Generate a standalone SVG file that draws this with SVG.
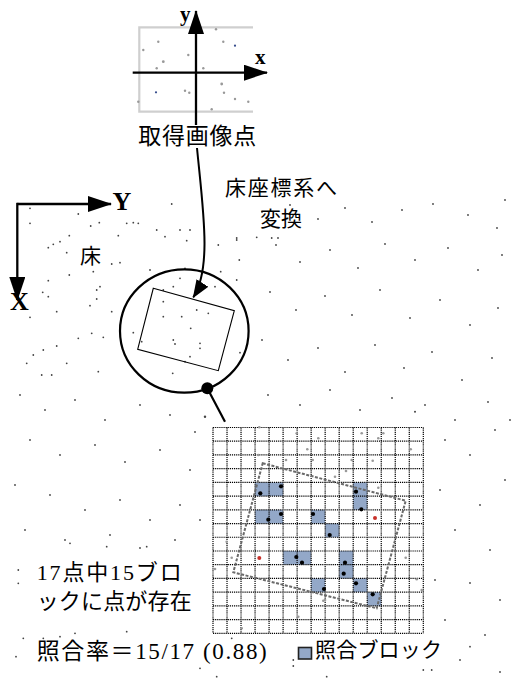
<svg xmlns="http://www.w3.org/2000/svg" width="513" height="679" viewBox="0 0 513 679">
<defs>
<style>
.d{fill:#444}
.g{fill:#999}
.k{fill:#000}
.r{fill:#c8312b}
.blk{fill:#93a8c8}
.ax{stroke:#000;stroke-width:2.3;fill:none}
.t{font-family:"Liberation Serif","Noto Sans CJK JP",serif;fill:#000}
.grid{stroke:#000;stroke-width:1.2;stroke-dasharray:1.2 0.9;fill:none}
</style>
<marker id="ah" markerUnits="userSpaceOnUse" markerWidth="24" markerHeight="16" viewBox="0 0 24 16" refX="23" refY="8" orient="auto"><path d="M0,0 L24,8 L0,16 z" fill="#000"/></marker>
<marker id="ah2" markerUnits="userSpaceOnUse" markerWidth="18" markerHeight="14" viewBox="0 0 18 14" refX="17" refY="7" orient="auto"><path d="M0,0 L18,7 L0,14 z" fill="#000"/></marker>
</defs>
<rect width="513" height="679" fill="#fff"/>

<g id="floor-dots">
<circle class="d" cx="30" cy="208.3" r="0.9"/><circle class="d" cx="78.3" cy="214" r="0.9"/><circle class="d" cx="30" cy="223.3" r="0.9"/><circle class="d" cx="90.7" cy="226" r="0.9"/><circle class="d" cx="99.3" cy="222.7" r="0.9"/><circle class="d" cx="69.3" cy="235.7" r="0.9"/><circle class="d" cx="118.3" cy="235.7" r="0.9"/><circle class="d" cx="60" cy="241.7" r="0.9"/><circle class="d" cx="53.3" cy="244.3" r="0.9"/><circle class="d" cx="48.3" cy="247.7" r="0.9"/><circle class="d" cx="66.7" cy="252.7" r="0.9"/><circle class="d" cx="120" cy="262.7" r="0.9"/><circle class="d" cx="69.3" cy="275" r="0.9"/><circle class="d" cx="93.3" cy="271.7" r="0.9"/><circle class="d" cx="48.3" cy="280.7" r="0.9"/><circle class="d" cx="42.7" cy="292.3" r="0.9"/><circle class="d" cx="48.3" cy="296.7" r="0.9"/><circle class="d" cx="100" cy="286.7" r="0.9"/><circle class="d" cx="96.7" cy="290" r="0.9"/><circle class="d" cx="96.7" cy="299" r="0.9"/><circle class="d" cx="90" cy="305.7" r="0.9"/><circle class="d" cx="111.7" cy="311.7" r="0.9"/><circle class="d" cx="56.7" cy="311.7" r="0.9"/><circle class="d" cx="30" cy="317.3" r="0.9"/><circle class="d" cx="126.7" cy="223.3" r="0.9"/><circle class="d" cx="138.3" cy="223.3" r="0.9"/>
<circle class="d" cx="171.7" cy="204" r="0.9"/><circle class="d" cx="133.3" cy="222.7" r="0.9"/><circle class="d" cx="156.7" cy="230" r="0.9"/><circle class="d" cx="180" cy="230" r="0.9"/><circle class="d" cx="190" cy="230" r="0.9"/><circle class="d" cx="165" cy="236.7" r="0.9"/><circle class="d" cx="186.7" cy="240.7" r="0.9"/><circle class="d" cx="218.3" cy="245" r="0.9"/><circle class="d" cx="236.7" cy="240" r="0.9"/><circle class="d" cx="256.7" cy="237.3" r="0.9"/><circle class="d" cx="239.3" cy="260" r="0.9"/><circle class="d" cx="111.7" cy="264" r="0.9"/><circle class="d" cx="150" cy="270" r="0.9"/><circle class="d" cx="185" cy="268.3" r="0.9"/><circle class="d" cx="220.7" cy="271.7" r="0.9"/><circle class="d" cx="236.7" cy="280" r="0.9"/><circle class="d" cx="180" cy="278.3" r="0.9"/><circle class="d" cx="173.3" cy="286.7" r="0.9"/><circle class="d" cx="163.3" cy="290" r="0.9"/><circle class="d" cx="215" cy="286.7" r="0.9"/>
<circle class="d" cx="33.3" cy="355" r="0.9"/><circle class="d" cx="43.3" cy="350" r="0.9"/><circle class="d" cx="56.7" cy="346" r="0.9"/><circle class="d" cx="78.3" cy="338.3" r="0.9"/><circle class="d" cx="91.7" cy="333.3" r="0.9"/><circle class="d" cx="103.3" cy="337.3" r="0.9"/><circle class="d" cx="26.7" cy="363.3" r="0.9"/><circle class="d" cx="66.7" cy="363.3" r="0.9"/><circle class="d" cx="98.3" cy="371.7" r="0.9"/><circle class="d" cx="41.7" cy="375" r="0.9"/><circle class="d" cx="51.7" cy="375" r="0.9"/><circle class="d" cx="172.7" cy="373.3" r="0.9"/><circle class="d" cx="185" cy="361.7" r="0.9"/>
<circle class="d" cx="163.3" cy="301.7" r="0.9"/><circle class="d" cx="181.7" cy="316.7" r="0.9"/><circle class="d" cx="163.3" cy="316.7" r="0.9"/><circle class="d" cx="190.7" cy="328.3" r="0.9"/><circle class="d" cx="173.3" cy="340" r="0.9"/><circle class="d" cx="175" cy="344" r="0.9"/><circle class="d" cx="200" cy="343.3" r="0.9"/><circle class="d" cx="200" cy="348.3" r="0.9"/><circle class="d" cx="208.3" cy="313.3" r="0.9"/><circle class="d" cx="190" cy="356.7" r="0.9"/><circle class="d" cx="240" cy="352.7" r="0.9"/><circle class="d" cx="133.3" cy="332.7" r="0.9"/><circle class="d" cx="141.7" cy="341.7" r="0.9"/><circle class="d" cx="196.7" cy="310" r="0.9"/>
<circle class="d" cx="236.7" cy="238" r="0.9"/><circle class="d" cx="271.7" cy="238" r="0.9"/><circle class="d" cx="278" cy="238" r="0.9"/>
<circle class="d" cx="262" cy="212" r="0.9"/><circle class="d" cx="290" cy="205" r="0.9"/><circle class="d" cx="318" cy="219" r="0.9"/><circle class="d" cx="345" cy="208" r="0.9"/><circle class="d" cx="372" cy="222" r="0.9"/><circle class="d" cx="402" cy="210" r="0.9"/><circle class="d" cx="433" cy="204" r="0.9"/><circle class="d" cx="468" cy="215" r="0.9"/><circle class="d" cx="497" cy="228" r="0.9"/><circle class="d" cx="505" cy="200" r="0.9"/>
<circle class="d" cx="276" cy="245" r="0.9"/><circle class="d" cx="300" cy="262" r="0.9"/><circle class="d" cx="330" cy="250" r="0.9"/><circle class="d" cx="358" cy="268" r="0.9"/><circle class="d" cx="385" cy="244" r="0.9"/><circle class="d" cx="415" cy="260" r="0.9"/><circle class="d" cx="448" cy="248" r="0.9"/><circle class="d" cx="478" cy="270" r="0.9"/><circle class="d" cx="502" cy="255" r="0.9"/>
<circle class="d" cx="270" cy="292" r="0.9"/><circle class="d" cx="296" cy="310" r="0.9"/><circle class="d" cx="325" cy="296" r="0.9"/><circle class="d" cx="352" cy="315" r="0.9"/><circle class="d" cx="380" cy="290" r="0.9"/><circle class="d" cx="410" cy="318" r="0.9"/><circle class="d" cx="440" cy="300" r="0.9"/><circle class="d" cx="470" cy="325" r="0.9"/><circle class="d" cx="498" cy="308" r="0.9"/>
<circle class="d" cx="262" cy="340" r="0.9"/><circle class="d" cx="288" cy="360" r="0.9"/><circle class="d" cx="318" cy="348" r="0.9"/><circle class="d" cx="345" cy="372" r="0.9"/><circle class="d" cx="375" cy="345" r="0.9"/><circle class="d" cx="404" cy="368" r="0.9"/><circle class="d" cx="432" cy="352" r="0.9"/><circle class="d" cx="462" cy="380" r="0.9"/><circle class="d" cx="492" cy="358" r="0.9"/>
<circle class="d" cx="268" cy="395" r="0.9"/><circle class="d" cx="300" cy="405" r="0.9"/><circle class="d" cx="330" cy="390" r="0.9"/><circle class="d" cx="360" cy="410" r="0.9"/><circle class="d" cx="392" cy="398" r="0.9"/><circle class="d" cx="425" cy="405" r="0.9"/><circle class="d" cx="455" cy="420" r="0.9"/><circle class="d" cx="488" cy="402" r="0.9"/><circle class="d" cx="510" cy="420" r="0.9"/>
<circle class="d" cx="445" cy="440" r="0.9"/><circle class="d" cx="470" cy="455" r="0.9"/><circle class="d" cx="495" cy="430" r="0.9"/><circle class="d" cx="440" cy="490" r="0.9"/><circle class="d" cx="480" cy="505" r="0.9"/><circle class="d" cx="505" cy="480" r="0.9"/><circle class="d" cx="455" cy="530" r="0.9"/><circle class="d" cx="490" cy="550" r="0.9"/><circle class="d" cx="435" cy="580" r="0.9"/><circle class="d" cx="470" cy="583" r="0.9"/><circle class="d" cx="500" cy="600" r="0.9"/><circle class="d" cx="445" cy="620" r="0.9"/><circle class="d" cx="485" cy="635" r="0.9"/><circle class="d" cx="460" cy="660" r="0.9"/><circle class="d" cx="500" cy="672" r="0.9"/><circle class="d" cx="470" cy="646.7" r="0.9"/>
<circle class="d" cx="20" cy="395" r="0.9"/><circle class="d" cx="45" cy="410" r="0.9"/><circle class="d" cx="75" cy="400" r="0.9"/><circle class="d" cx="105" cy="420" r="0.9"/><circle class="d" cx="140" cy="405" r="0.9"/><circle class="d" cx="170" cy="415" r="0.9"/><circle class="d" cx="195" cy="432" r="0.9"/><circle class="d" cx="30" cy="440" r="0.9"/><circle class="d" cx="60" cy="455" r="0.9"/><circle class="d" cx="95" cy="445" r="0.9"/><circle class="d" cx="125" cy="462" r="0.9"/><circle class="d" cx="160" cy="450" r="0.9"/><circle class="d" cx="190" cy="470" r="0.9"/><circle class="d" cx="15" cy="485" r="0.9"/><circle class="d" cx="50" cy="495" r="0.9"/><circle class="d" cx="85" cy="510" r="0.9"/><circle class="d" cx="120" cy="500" r="0.9"/><circle class="d" cx="150" cy="520" r="0.9"/><circle class="d" cx="180" cy="505" r="0.9"/><circle class="d" cx="25" cy="530" r="0.9"/><circle class="d" cx="65" cy="540" r="0.9"/><circle class="d" cx="110" cy="535" r="0.9"/><circle class="d" cx="140" cy="548" r="0.9"/><circle class="d" cx="175" cy="540" r="0.9"/><circle class="d" cx="200" cy="520" r="0.9"/>
<circle class="d" cx="18.3" cy="570" r="0.9"/><circle class="d" cx="18.3" cy="583.3" r="0.9"/><circle class="d" cx="16" cy="656.7" r="0.9"/><circle class="d" cx="70" cy="543.3" r="0.9"/><circle class="d" cx="106.7" cy="546.7" r="0.9"/><circle class="d" cx="146.7" cy="546.7" r="0.9"/><circle class="d" cx="23.3" cy="638.3" r="0.9"/><circle class="d" cx="43.3" cy="638.3" r="0.9"/><circle class="d" cx="60" cy="636.7" r="0.9"/><circle class="d" cx="75" cy="633.3" r="0.9"/><circle class="d" cx="126.7" cy="631.7" r="0.9"/><circle class="d" cx="200" cy="668.3" r="0.9"/><circle class="d" cx="231.7" cy="638.3" r="0.9"/><circle class="d" cx="293.3" cy="660" r="0.9"/><circle class="d" cx="293.3" cy="666" r="0.9"/><circle class="d" cx="423.3" cy="670" r="0.9"/><circle class="d" cx="431.7" cy="670" r="0.9"/><circle class="d" cx="326.7" cy="676.7" r="0.9"/><circle class="d" cx="216.7" cy="676.7" r="0.9"/>
<circle class="d" cx="205" cy="416.7" r="1.2"/><circle class="d" cx="415" cy="411.7" r="1"/>
</g>

<g id="acquired-image">
<path d="M253,27.3 H139.3 V111.7 H253" fill="none" stroke="#cfcfcf" stroke-width="2.2"/>
<g class="g">
<circle cx="158.3" cy="41.7" r="1.2"/><circle cx="143.3" cy="50" r="1.2"/><circle cx="163.3" cy="61.7" r="1.4"/><circle cx="156.7" cy="68.3" r="1.2"/><circle cx="188.3" cy="55" r="1.2"/><circle cx="203.3" cy="68.3" r="1.2"/><circle cx="223.3" cy="41.7" r="1.2"/><circle cx="216" cy="29.3" r="1.2"/><circle cx="185" cy="90.7" r="1.2"/><circle cx="189.3" cy="92.7" r="1.2"/><circle cx="221.7" cy="84" r="1.4"/><circle cx="224" cy="92.7" r="1.2"/><circle cx="235" cy="99" r="1.2"/><circle cx="211.7" cy="109.3" r="1.2"/><circle cx="248.3" cy="101.7" r="1.2"/><circle cx="138.3" cy="101.7" r="1.2"/>
</g>
<circle cx="235" cy="45.7" r="1.1" fill="#334a8a"/><circle cx="156" cy="92.3" r="1.1" fill="#334a8a"/>
<path class="ax" d="M196,125 V11" marker-end="url(#ah)"/>
<path class="ax" d="M132.7,72.7 H267" marker-end="url(#ah)"/>
<text class="t" x="180" y="20.5" font-size="21" font-weight="bold">y</text>
<text class="t" x="255" y="64" font-size="21" font-weight="bold">x</text>
<text class="t" x="138.3" y="144" font-size="23" textLength="118" lengthAdjust="spacing">取得画像点</text>
</g>

<g id="floor-axes">
<path class="ax" d="M17.3,204 H111" stroke-width="2.5" marker-end="url(#ah)"/>
<path class="ax" d="M17.3,202.8 V300" stroke-width="2.5" marker-end="url(#ah)"/>
<text class="t" x="112.5" y="210" font-size="26" font-weight="bold">Y</text>
<text class="t" x="10" y="310" font-size="26" font-weight="bold">X</text>
<text class="t" x="80" y="263" font-size="21">床</text>
</g>

<g id="transform-label">
<text class="t" x="225" y="195" font-size="21" textLength="112" lengthAdjust="spacing">床座標系へ</text>
<text class="t" x="260" y="226" font-size="21">変換</text>
</g>

<g id="view-circle">
<ellipse cx="184.3" cy="331" rx="64.3" ry="61.7" fill="none" stroke="#000" stroke-width="2.2"/>
<polygon points="153.3,288.3 234.3,310.7 218.3,370.7 137.7,349.3" fill="none" stroke="#000" stroke-width="1.1"/>
<circle cx="207.3" cy="388.3" r="6" fill="#000"/>
</g>

<g id="connectors">
<path d="M197,148 C203,210 212,268 193.3,297.3" fill="none" stroke="#000" stroke-width="2" marker-end="url(#ah2)"/>
<path d="M207.3,388.3 L225,421.7" fill="none" stroke="#000" stroke-width="2.2"/>
</g>

<g id="block-grid">
<rect class="blk" x="255.06" y="482.38" width="28.04" height="13.72"/>
<rect class="blk" x="353.2" y="482.38" width="14.02" height="27.44"/>
<rect class="blk" x="255.06" y="509.82" width="28.04" height="13.72"/>
<rect class="blk" x="311.14" y="509.82" width="14.02" height="13.72"/>
<rect class="blk" x="325.16" y="523.54" width="14.02" height="13.72"/>
<rect class="blk" x="283.1" y="550.98" width="28.04" height="13.72"/>
<rect class="blk" x="339.18" y="550.98" width="14.02" height="27.44"/>
<rect class="blk" x="311.14" y="578.42" width="14.02" height="13.72"/>
<rect class="blk" x="353.2" y="578.42" width="14.02" height="13.72"/>
<rect class="blk" x="367.22" y="592.14" width="14.02" height="13.72"/>
<path class="grid" d="M213,427.5V633.3M227.02,427.5V633.3M241.04,427.5V633.3M255.06,427.5V633.3M269.08,427.5V633.3M283.1,427.5V633.3M297.12,427.5V633.3M311.14,427.5V633.3M325.16,427.5V633.3M339.18,427.5V633.3M353.2,427.5V633.3M367.22,427.5V633.3M381.24,427.5V633.3M395.26,427.5V633.3M409.28,427.5V633.3M423.3,427.5V633.3
M213,427.5H423.3M213,441.22H423.3M213,454.94H423.3M213,468.66H423.3M213,482.38H423.3M213,496.1H423.3M213,509.82H423.3M213,523.54H423.3M213,537.26H423.3M213,550.98H423.3M213,564.7H423.3M213,578.42H423.3M213,592.14H423.3M213,605.86H423.3M213,619.58H423.3M213,633.3H423.3"/>
<g class="g">
<circle cx="259.3" cy="427.3" r="1.3"/><circle cx="296.7" cy="433.3" r="1.3"/><circle cx="318.3" cy="438.3" r="1.3"/><circle cx="361.7" cy="433.3" r="1.3"/><circle cx="383.3" cy="433.3" r="1.3"/><circle cx="378.3" cy="438.3" r="1.3"/><circle cx="307.3" cy="449.3" r="1.3"/><circle cx="410.7" cy="449.3" r="1.3"/><circle cx="258.3" cy="455" r="1.3"/><circle cx="286" cy="460" r="1.3"/><circle cx="312.7" cy="460" r="1.3"/><circle cx="351.7" cy="460" r="1.3"/><circle cx="372.7" cy="460.7" r="1.3"/><circle cx="346" cy="471" r="1.3"/><circle cx="335" cy="476.7" r="1.3"/><circle cx="378.3" cy="487.7" r="1.3"/><circle cx="226.7" cy="541.7" r="1.3"/><circle cx="231.7" cy="557.7" r="1.3"/><circle cx="215" cy="569" r="1.3"/><circle cx="405.7" cy="557.7" r="1.3"/><circle cx="416.7" cy="579.3" r="1.3"/><circle cx="323.3" cy="600.7" r="1.3"/><circle cx="298.3" cy="616.7" r="1.3"/><circle cx="241.7" cy="628.3" r="1.3"/><circle cx="325" cy="600" r="1.3"/><circle cx="421.7" cy="590" r="1.3"/>
</g>
<polygon points="262.7,463.3 405.7,500.7 376.7,608.3 233.3,572.3" fill="none" stroke="#6a6a6a" stroke-width="2" stroke-dasharray="3 1.5"/>
<g class="k">
<circle cx="260.3" cy="493.3" r="2.1"/><circle cx="281" cy="486.3" r="2.1"/><circle cx="356" cy="491.7" r="2.1"/><circle cx="361.3" cy="509.3" r="2.1"/><circle cx="268.3" cy="519.7" r="2.1"/><circle cx="281" cy="514" r="2.1"/><circle cx="313" cy="514" r="2.1"/><circle cx="329.7" cy="535" r="2.1"/><circle cx="296.3" cy="557" r="2.1"/><circle cx="302" cy="562.7" r="2.1"/><circle cx="345" cy="562.7" r="2.1"/><circle cx="343.7" cy="573.7" r="2.1"/><circle cx="356" cy="583.3" r="2.1"/><circle cx="324" cy="589" r="2.1"/><circle cx="372.7" cy="594.3" r="2.1"/>
</g>
<circle class="r" cx="375" cy="518" r="2"/><circle class="r" cx="259.3" cy="558" r="2"/>
</g>

<g id="result-text">
<text class="t" x="36.7" y="580" font-size="22" textLength="145" lengthAdjust="spacing">17点中15ブロ</text>
<text class="t" x="36.7" y="609" font-size="22" textLength="155" lengthAdjust="spacing">ックに点が存在</text>
<text class="t" x="36.7" y="659" font-size="23" textLength="230" lengthAdjust="spacing">照合率＝15/17 (0.88)</text>
</g>

<g id="legend">
<rect x="298.5" y="647.5" width="13" height="11.5" fill="#93a8c8" stroke="#222" stroke-width="1.6"/>
<text class="t" x="315" y="657" font-size="21" textLength="127" lengthAdjust="spacing">照合ブロック</text>
</g>
</svg>
